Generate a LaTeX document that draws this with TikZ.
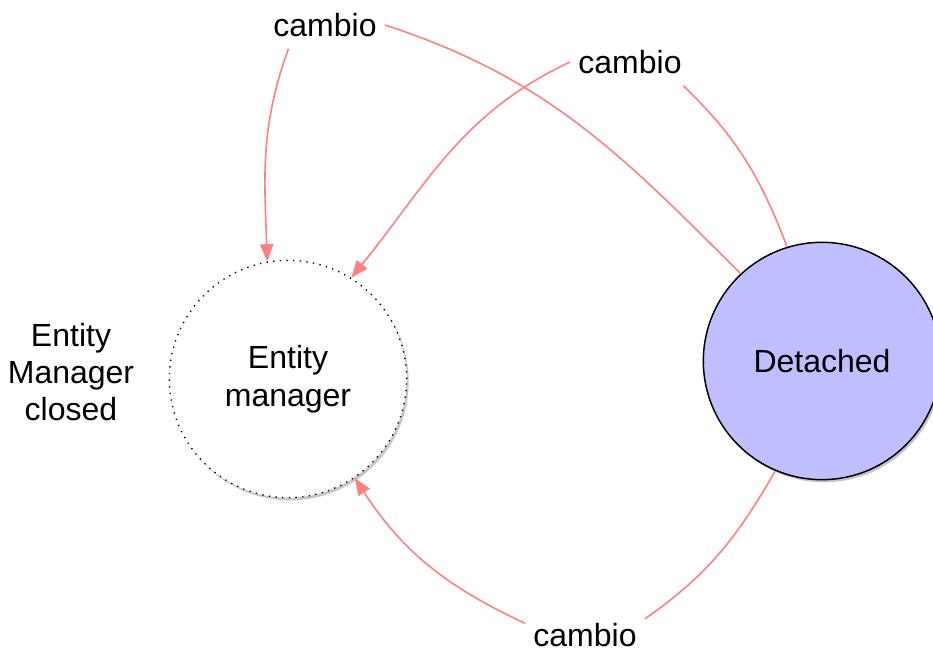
\documentclass[tikz,border=0pt]{standalone}
\usepackage{fontspec}
\setmainfont{Liberation Sans}
\usetikzlibrary{positioning, arrows.meta, shadows}

\definecolor{cambiored}{RGB}{255,128,128}
\definecolor{detblue}{RGB}{191,191,255}

\begin{document}
\begin{tikzpicture}[x=0.75pt, y=0.75pt,
    state/.style={circle, minimum size=178pt, inner sep=0pt, align=center,
      font=\fontsize{24}{28.5}\selectfont,
      drop shadow={opacity=0.45, shadow xshift=1.5pt, shadow yshift=-2pt}},
    lbl/.style={inner xsep=6pt, inner ysep=4pt, outer ysep=5pt, font=\fontsize{24}{28.5}\selectfont},
    trans/.style={cambiored, line width=1.2pt},
    tip/.style={trans, -{Triangle[length=13pt, width=10pt]}}]
  \useasboundingbox (0,0) rectangle (933,652);

  % states
  \node[state, fill=white, draw=black, loosely dotted, line width=1pt] (em) at (288,273) {Entity\\manager};
  \node[state, fill=detblue, draw=black, line width=1.1pt] (det) at (822,291) {Detached};
  \node[align=center, font=\fontsize{24}{27.75}\selectfont] (closed) at (71,280) {Entity\\Manager\\closed};

  % labels
  \node[lbl] (lab1) at (325,627) {cambio};
  \node[lbl] (lab2) at (630,590) {cambio};
  \node[lbl] (lab3) at (585,17) {cambio};

  % transitions
  \draw[trans] (det.133) to[out=135, in=-18] (lab1.east);
  \draw[tip] (lab1.213) to[out=250, in=92] (em.100);
  \draw[trans] (det.107) to[out=111, in=-44] (lab2.336);
  \draw[tip] (lab2.west) to[out=205, in=51] (em.58);
  \draw[trans] (det.247) to[out=240, in=35] (lab3.15);
  \draw[tip] (lab3.169) to[out=155, in=-57] (em.-56);
\end{tikzpicture}
\end{document}
